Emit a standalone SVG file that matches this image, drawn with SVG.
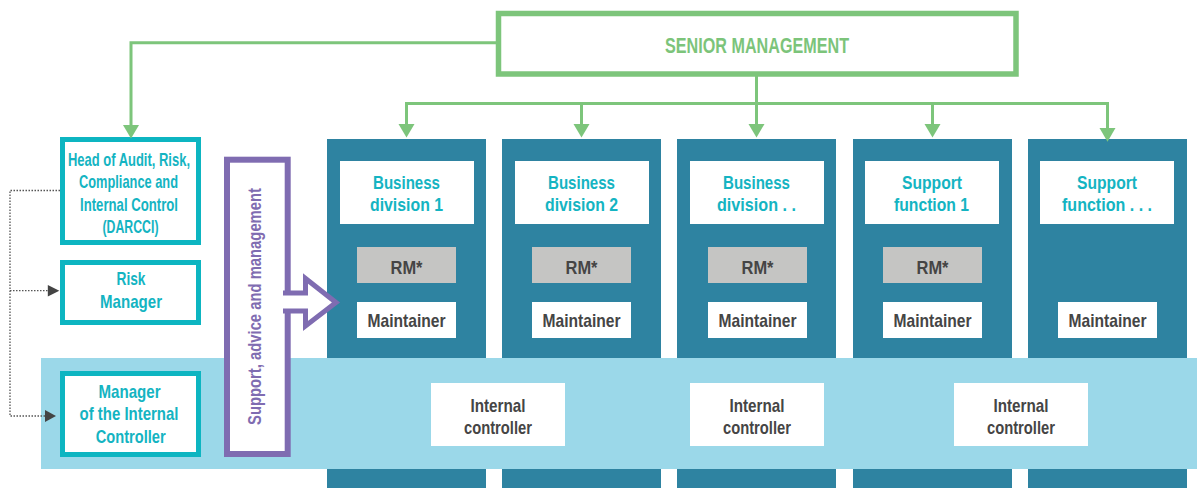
<svg xmlns="http://www.w3.org/2000/svg" width="1197" height="488" viewBox="0 0 1197 488">
<defs>
<style>
.col{fill:#2e83a1}
.wbox{fill:#ffffff}
.rm{fill:#c5c5c3}
.band{fill:#9bd8e9}
.tbox{fill:#ffffff;stroke:#0db5c1;stroke-width:5}
.ttl{font-family:"Liberation Sans",Arial,sans-serif;font-weight:bold;font-size:18.5px;fill:#14b4c2;text-anchor:middle}
.gry{font-family:"Liberation Sans",Arial,sans-serif;font-weight:bold;font-size:18.5px;fill:#454545;text-anchor:middle}
.sen{font-family:"Liberation Sans",Arial,sans-serif;font-weight:bold;font-size:21.5px;fill:#7cc47a;text-anchor:middle}
.pur{font-family:"Liberation Sans",Arial,sans-serif;font-weight:bold;font-size:19px;fill:#7f6cb1;text-anchor:middle}
.gl{fill:none;stroke:#7dc57b;stroke-width:3}
.gh{fill:#7dc57b}
.dl{fill:none;stroke:#555555;stroke-width:1.3;stroke-dasharray:1.5 1.5}
.dh{fill:#444444}
</style>
</defs>

<!-- Columns -->
<g id="col1">
<rect class="col" x="327" y="139" width="159" height="349"/>
<rect class="wbox" x="340" y="161" width="134" height="63"/>
<text class="ttl" x="406.5" y="189.3" textLength="67" lengthAdjust="spacingAndGlyphs">Business</text>
<text class="ttl" x="406.5" y="210.7" textLength="73" lengthAdjust="spacingAndGlyphs">division 1</text>
<rect class="rm" x="357" y="247" width="99" height="36"/>
<text class="gry" x="406.5" y="274" textLength="32" lengthAdjust="spacingAndGlyphs">RM*</text>
<rect class="wbox" x="357" y="302" width="99" height="36"/>
<text class="gry" x="406.5" y="327.3" textLength="78" lengthAdjust="spacingAndGlyphs">Maintainer</text>
</g>
<g id="col2">
<rect class="col" x="502" y="139" width="159" height="349"/>
<rect class="wbox" x="515" y="161" width="134" height="63"/>
<text class="ttl" x="581.5" y="189.3" textLength="67" lengthAdjust="spacingAndGlyphs">Business</text>
<text class="ttl" x="581.5" y="210.7" textLength="73" lengthAdjust="spacingAndGlyphs">division 2</text>
<rect class="rm" x="532" y="247" width="99" height="36"/>
<text class="gry" x="581.5" y="274" textLength="32" lengthAdjust="spacingAndGlyphs">RM*</text>
<rect class="wbox" x="532" y="302" width="99" height="36"/>
<text class="gry" x="581.5" y="327.3" textLength="78" lengthAdjust="spacingAndGlyphs">Maintainer</text>
</g>
<g id="col3">
<rect class="col" x="677" y="139" width="159" height="349"/>
<rect class="wbox" x="690" y="161" width="134" height="63"/>
<text class="ttl" x="756.5" y="189.3" textLength="67" lengthAdjust="spacingAndGlyphs">Business</text>
<text class="ttl" x="756.5" y="210.7" textLength="79" lengthAdjust="spacingAndGlyphs">division . .</text>
<rect class="rm" x="708" y="247" width="99" height="36"/>
<text class="gry" x="757.5" y="274" textLength="32" lengthAdjust="spacingAndGlyphs">RM*</text>
<rect class="wbox" x="708" y="302" width="99" height="36"/>
<text class="gry" x="757.5" y="327.3" textLength="78" lengthAdjust="spacingAndGlyphs">Maintainer</text>
</g>
<g id="col4">
<rect class="col" x="853" y="139" width="159" height="349"/>
<rect class="wbox" x="865" y="161" width="134" height="63"/>
<text class="ttl" x="932" y="189.3" textLength="60" lengthAdjust="spacingAndGlyphs">Support</text>
<text class="ttl" x="931.5" y="210.7" textLength="75" lengthAdjust="spacingAndGlyphs">function 1</text>
<rect class="rm" x="883" y="247" width="99" height="36"/>
<text class="gry" x="932.5" y="274" textLength="32" lengthAdjust="spacingAndGlyphs">RM*</text>
<rect class="wbox" x="883" y="302" width="99" height="36"/>
<text class="gry" x="932.5" y="327.3" textLength="78" lengthAdjust="spacingAndGlyphs">Maintainer</text>
</g>
<g id="col5">
<rect class="col" x="1028" y="139" width="159" height="349"/>
<rect class="wbox" x="1040" y="161" width="134" height="63"/>
<text class="ttl" x="1107" y="189.3" textLength="60" lengthAdjust="spacingAndGlyphs">Support</text>
<text class="ttl" x="1107" y="210.7" textLength="90" lengthAdjust="spacingAndGlyphs">function . . .</text>
<rect class="wbox" x="1058" y="302" width="99" height="36"/>
<text class="gry" x="1107.5" y="327.3" textLength="78" lengthAdjust="spacingAndGlyphs">Maintainer</text>
</g>

<!-- Internal control band -->
<g id="band">
<rect class="band" x="41" y="358" width="1156" height="111"/>
</g>
<g id="ic1">
<rect class="wbox" x="431" y="383" width="134" height="63"/>
<text class="gry" x="498" y="412.3" textLength="55" lengthAdjust="spacingAndGlyphs">Internal</text>
<text class="gry" x="498" y="434.3" textLength="68" lengthAdjust="spacingAndGlyphs">controller</text>
</g>
<g id="ic2">
<rect class="wbox" x="690" y="383" width="134" height="63"/>
<text class="gry" x="757" y="412.3" textLength="55" lengthAdjust="spacingAndGlyphs">Internal</text>
<text class="gry" x="757" y="434.3" textLength="68" lengthAdjust="spacingAndGlyphs">controller</text>
</g>
<g id="ic3">
<rect class="wbox" x="954" y="383" width="134" height="63"/>
<text class="gry" x="1021" y="412.3" textLength="55" lengthAdjust="spacingAndGlyphs">Internal</text>
<text class="gry" x="1021" y="434.3" textLength="68" lengthAdjust="spacingAndGlyphs">controller</text>
</g>

<!-- Senior management -->
<g id="senior">
<rect x="498.5" y="13.5" width="517.5" height="60.5" fill="#ffffff" stroke="#7dc57b" stroke-width="5.5"/>
<text class="sen" x="757" y="52.5" textLength="184" lengthAdjust="spacingAndGlyphs">SENIOR MANAGEMENT</text>
</g>

<!-- Left boxes -->
<g id="darcci">
<rect class="tbox" x="62.5" y="139.5" width="136" height="103"/>
<text class="ttl" x="129" y="166" textLength="122" lengthAdjust="spacingAndGlyphs">Head of Audit, Risk,</text>
<text class="ttl" x="128.5" y="188" textLength="99" lengthAdjust="spacingAndGlyphs">Compliance and</text>
<text class="ttl" x="129" y="210.5" textLength="98" lengthAdjust="spacingAndGlyphs">Internal Control</text>
<text class="ttl" x="130.5" y="233" textLength="56" lengthAdjust="spacingAndGlyphs">(DARCCI)</text>
</g>
<g id="risk">
<rect class="tbox" x="62.5" y="262.5" width="136" height="60"/>
<text class="ttl" x="131" y="285" textLength="29" lengthAdjust="spacingAndGlyphs">Risk</text>
<text class="ttl" x="131" y="307.5" textLength="62" lengthAdjust="spacingAndGlyphs">Manager</text>
</g>
<g id="manager">
<rect class="tbox" x="62.5" y="373.5" width="136" height="81"/>
<text class="ttl" x="129.5" y="398.3" textLength="62" lengthAdjust="spacingAndGlyphs">Manager</text>
<text class="ttl" x="129" y="420" textLength="99" lengthAdjust="spacingAndGlyphs">of the Internal</text>
<text class="ttl" x="130.7" y="442.7" textLength="70" lengthAdjust="spacingAndGlyphs">Controller</text>
</g>

<!-- Support box with arrow -->
<g id="support">
<rect x="227" y="159.7" width="60.7" height="294.3" fill="#ffffff" stroke="#7f6cb1" stroke-width="6"/>
<path d="M283 293 H305.5 V278.5 L336 302.5 L305.5 326 V311 H283" fill="#ffffff" stroke="#7f6cb1" stroke-width="5" stroke-linejoin="miter"/>
<text class="pur" transform="translate(261 306.5) rotate(-90)" x="0" y="0" textLength="237" lengthAdjust="spacingAndGlyphs">Support, advice and management</text>
</g>

<!-- Connectors -->
<g id="connectors">
<path class="gl" d="M496 42.7 H131 V126"/>
<polygon class="gh" points="123,125 139,125 131,138.5"/>
<path class="gl" d="M756.5 76 V125"/>
<polygon class="gh" points="748.5,124 764.5,124 756.5,137.5"/>
<path class="gl" d="M406.5 125 V103.5 H1107.5 V129"/>
<path class="gl" d="M581.5 103.5 V125"/>
<path class="gl" d="M932.5 103.5 V125"/>
<polygon class="gh" points="398.5,124 414.5,124 406.5,137.5"/>
<polygon class="gh" points="573.5,124 589.5,124 581.5,137.5"/>
<polygon class="gh" points="924.5,124 940.5,124 932.5,137.5"/>
<polygon class="gh" points="1099.5,128 1115.5,128 1107.5,141.7"/>
<path class="dl" d="M60 190.5 H10 V416 H46"/>
<path class="dl" d="M10 290.7 H48"/>
<polygon class="dh" points="47.8,285 59.3,290.7 47.8,296.5"/>
<polygon class="dh" points="45,410 56,416 45,422"/>
</g>
</svg>
